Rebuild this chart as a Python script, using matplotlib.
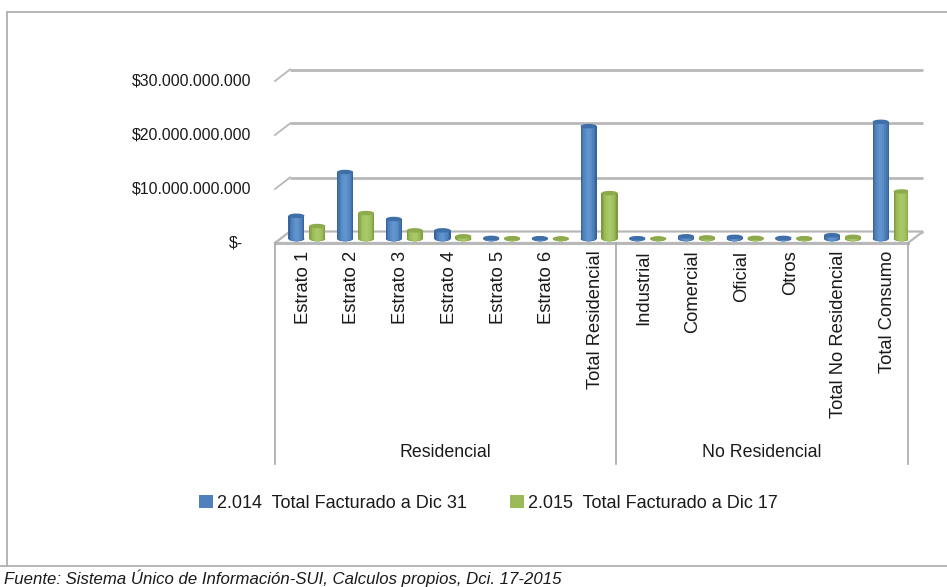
import matplotlib
matplotlib.use("Agg")
import matplotlib.pyplot as plt
from matplotlib.lines import Line2D
from matplotlib.patches import Ellipse, Patch, Polygon

plt.rcParams["font.family"] = ["Liberation Sans", "DejaVu Sans"]

categories = ["Estrato 1", "Estrato 2", "Estrato 3", "Estrato 4", "Estrato 5", "Estrato 6",
              "Total Residencial", "Industrial", "Comercial", "Oficial", "Otros",
              "Total No Residencial", "Total Consumo"]
# values in thousands of millions of pesos
facturado_2014 = [4.3, 12.4, 3.7, 1.6, 0.2, 0.15, 20.9, 0.15, 0.5, 0.4, 0.2, 0.7, 21.7]
facturado_2015 = [2.4, 4.8, 1.6, 0.5, 0.15, 0.1, 8.5, 0.1, 0.3, 0.2, 0.15, 0.4, 8.8]
tick_values = [0, 10, 20, 30]
tick_labels = ["$-", "$10.000.000.000", "$20.000.000.000", "$30.000.000.000"]
groups = [("Residencial", 0, 7), ("No Residencial", 7, 13)]

W, H = 947, 587
TEXT = "#1a1a1a"
GRID = "#b8b8b8"
LINE = "#a8a8a8"

# pixel geometry of the plot
PX_LEFT, PX_RIGHT = 275, 908
PX_TOP, PX_BOTTOM, PX_ZERO = 30, 464, 239
PX_PER_UNIT = 5.4
PX_PER_CAT = (PX_RIGHT - PX_LEFT) / len(categories)

fig = plt.figure(figsize=(W / 100, H / 100), dpi=100, facecolor="white")
ax = fig.add_axes([PX_LEFT / W, 1 - PX_BOTTOM / H, (PX_RIGHT - PX_LEFT) / W, (PX_BOTTOM - PX_TOP) / H])
ax.set_xlim(0, len(categories))
ax.set_ylim(-(PX_BOTTOM - PX_ZERO) / PX_PER_UNIT, (PX_ZERO - PX_TOP) / PX_PER_UNIT)
ax.axis("off")

# depth of the fake 3d box
dx = 15 / PX_PER_CAT
front = -4 / PX_PER_UNIT
back = 7.5 / PX_PER_UNIT

# back grid lines and left connectors
for v in tick_values:
    ax.plot([dx, len(categories) + dx], [v + back, v + back], color=GRID, lw=2.0, clip_on=False, zorder=1,
            solid_capstyle="butt")
    ax.plot([0, dx], [v + front, v + back], color=GRID, lw=1.3, clip_on=False, zorder=1)

# floor
ax.add_patch(Polygon([(0, front), (dx, back), (13 + dx, back), (13, front)], closed=True,
                     facecolor="white", edgecolor=GRID, lw=1.6, clip_on=False, zorder=2))
ax.plot([0, 13], [front, front], color=GRID, lw=2.2, zorder=3, clip_on=False)


def cylinders(xs, values, shades, top):
    bar_w = 0.33
    ell_h = 4.5 / PX_PER_UNIT
    widths = [1.0, 0.86, 0.68, 0.46, 0.22]
    for x, v in zip(xs, values):
        for frac, shade in zip(widths, shades):
            ax.bar(x, v, width=bar_w * frac, color=shade, linewidth=0, zorder=4)
            ax.add_patch(Ellipse((x, 0), bar_w * frac, ell_h, facecolor=shade, edgecolor="none", zorder=4))
        ax.add_patch(Ellipse((x, v), bar_w, ell_h, facecolor=top, edgecolor="none", zorder=5))


xs_2014 = [i + 0.44 for i in range(len(categories))]
xs_2015 = [i + 0.87 for i in range(len(categories))]
cylinders(xs_2014, facturado_2014, ["#37659b", "#4474ac", "#4f81bd", "#5a8cc6", "#6194ce"], "#3f6fa8")
cylinders(xs_2015, facturado_2015, ["#7d9c3f", "#8cab49", "#9bbb59", "#a4c362", "#a9c86a"], "#8dab4c")

# group separators and labels
for x in [0, 7, 13]:
    ax.plot([x, x], [front, ax.get_ylim()[0]], color=LINE, lw=1.2, clip_on=False, zorder=3)

for i, c in enumerate(categories):
    ax.text(i + 0.58, front - 1.4, c, rotation=90, ha="center", va="top", fontsize=13.2, color=TEXT)
for name, a, b in groups:
    ax.text((a + b) / 2, -39.5, name, ha="center", va="center", fontsize=12.8, color=TEXT)

# y labels, right aligned to the axis box
for v, lab in zip(tick_values, tick_labels):
    if v == 0:
        ax.text(-46 / PX_PER_CAT, front, lab, ha="left", va="center", fontsize=11.4, color=TEXT)
    else:
        ax.text(-24 / PX_PER_CAT, v + front, lab, ha="right", va="center", fontsize=11.4, color=TEXT)

handles = [Patch(facecolor="#4f81bd", label="2.014  Total Facturado a Dic 31"),
           Patch(facecolor="#9bbb59", label="2.015  Total Facturado a Dic 17")]
fig.legend(handles=handles, loc="center", bbox_to_anchor=(488.5 / W, 1 - 503.5 / H), ncol=2, frameon=False,
           fontsize=13, labelcolor=TEXT, handlelength=0.75, handleheight=0.75, handletextpad=0.25, columnspacing=2.4)

# chart frame and source line
for xy in [((7, W), (12, 12)), ((7, 7), (12, 566)), ((0, W), (566, 566))]:
    fig.add_artist(Line2D([p / W for p in xy[0]], [1 - p / H for p in xy[1]], color="#b0b0b0", lw=1.3))
fig.text(4 / W, 1 - 578 / H, "Fuente: Sistema Único de Información-SUI, Calculos propios, Dci. 17-2015",
         style="italic", fontsize=12.1, va="center", color=TEXT)

fig.savefig("out.png", dpi=100)
